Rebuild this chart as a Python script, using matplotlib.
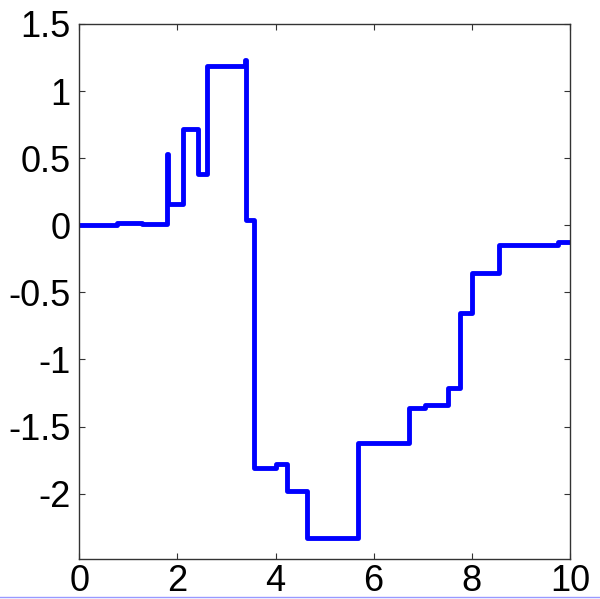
import matplotlib
matplotlib.use("Agg")
import matplotlib.pyplot as plt
from matplotlib.lines import Line2D

# step edges and levels
step_x = [0, 0.77, 1.28, 1.79, 1.80, 2.12, 2.43, 2.60, 3.38, 3.39, 3.57, 4.01, 4.23,
          4.64, 5.69, 6.72, 7.05, 7.52, 7.75, 8.00, 8.55, 9.75, 10]
step_y = [0, 0.02, 0.01, 0.53, 0.16, 0.72, 0.385, 1.19, 1.23, 0.04, -1.81, -1.78, -1.98,
          -2.33, -1.62, -1.36, -1.34, -1.215, -0.65, -0.355, -0.15, -0.125, -0.125]

x_ticks = [0, 2, 4, 6, 8, 10]
y_ticks = [-2, -1.5, -1, -0.5, 0, 0.5, 1, 1.5]
y_labels = ["-2", "-1.5", "-1", "-0.5", "0", "0.5", "1", "1.5"]

plt.rcParams['font.family'] = ['Liberation Sans', 'DejaVu Sans']

fig = plt.figure(figsize=(6, 5.99), dpi=100)
ax = fig.add_axes([0.132, 0.066, 0.818, 0.894])

ax.step(step_x, step_y, where='post', color='#0000ff', linewidth=3.5)

ax.set_xlim(0, 10)
ax.set_ylim(-2.49, 1.5)
ax.set_xticks(x_ticks)
ax.set_yticks(y_ticks)
ax.set_yticklabels(y_labels)
ax.tick_params(direction='in', length=4, width=0.8, labelsize=26,
               top=True, right=True, pad=6, color='#333333')
ax.tick_params(axis='x', pad=3.5)
for s in ax.spines.values():
    s.set_linewidth(1.0)
    s.set_color('#333333')

# thin light-blue rule along the very bottom edge
fig.add_artist(Line2D([0, 1], [0.003, 0.003], transform=fig.transFigure,
                      color='#9999ff', linewidth=1.0))

fig.savefig("out.png", dpi=100)
